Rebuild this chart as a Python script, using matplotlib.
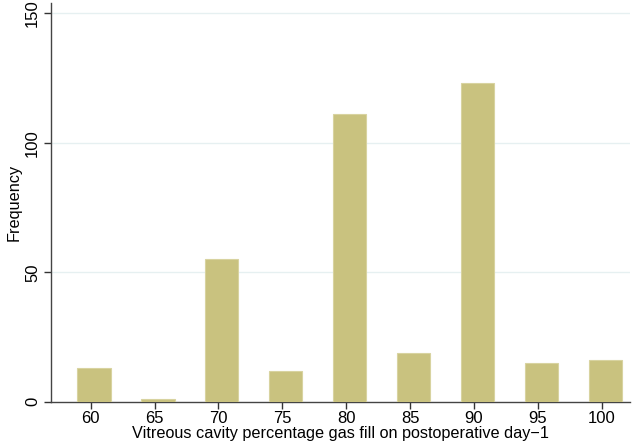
import matplotlib
matplotlib.use("Agg")
import matplotlib.pyplot as plt
import numpy as np

plt.rcParams['font.family'] = ['Liberation Sans', 'DejaVu Sans']

gas_fill = [60, 65, 70, 75, 80, 85, 90, 95, 100]
frequency = [13, 1, 55, 12, 111, 19, 123, 15, 16]
y_ticks = [0, 50, 100, 150]

fig = plt.figure(figsize=(6.32, 4.46), dpi=100)
ax = fig.add_axes([0.0807, 0.0993, 0.9161, 0.894])

ax.bar(np.array(gas_fill) + 0.27, frequency, width=2.6,
       color='#c9c27f', edgecolor='#d8d3a0', linewidth=0.8, zorder=3)

ax.set_xlim(56.9, 102.2)
ax.set_ylim(0, 154)
ax.set_xticks(gas_fill)
ax.set_xticklabels([str(v) for v in gas_fill], fontsize=12)
ax.set_yticks(y_ticks)
ax.set_yticklabels([str(v) for v in y_ticks], fontsize=12, rotation=90, va='center')

for y in y_ticks[1:]:
    ax.axhline(y, color='#e6f0f1', linewidth=1.0, zorder=1)

for s in ['top', 'right']:
    ax.spines[s].set_visible(False)
for s in ['left', 'bottom']:
    ax.spines[s].set_color('#444444')
    ax.spines[s].set_linewidth(1.0)

ax.tick_params(axis='both', colors='#333333', length=5, width=1.0, labelcolor='black')
ax.tick_params(axis='x', pad=2)
ax.tick_params(axis='y', pad=3)

ax.set_xlabel('Vitreous cavity percentage gas fill on postoperative day\u22121', fontsize=11.7, labelpad=0)
ax.set_ylabel('Frequency', fontsize=11.7, labelpad=2)

fig.savefig('out.png', dpi=100)
